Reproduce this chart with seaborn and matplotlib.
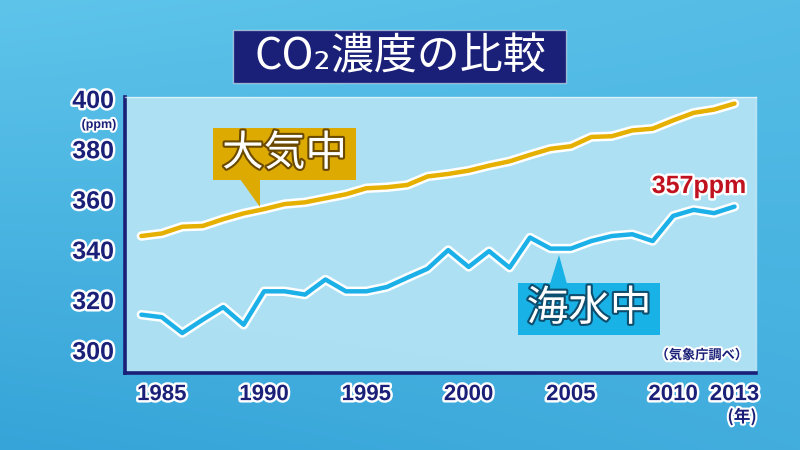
import numpy as np
import pandas as pd
import matplotlib
matplotlib.use("Agg")
import matplotlib.pyplot as plt
import seaborn as sns
from matplotlib import patheffects as pe
from matplotlib.patches import Rectangle, Polygon

# ---- data ----
years = list(range(1984, 2014))
atmosphere = [345.3, 346.3, 349.0, 349.3, 352.0, 354.3, 356.0, 358.0, 358.7, 360.3,
              361.9, 364.3, 364.7, 365.6, 369.0, 370.0, 371.3, 373.3, 375.0, 377.6,
              380.0, 381.0, 384.7, 385.0, 387.3, 388.0, 391.3, 394.3, 395.6, 398.0]
ocean = [314.0, 313.0, 306.7, 312.0, 317.0, 310.0, 323.3, 323.3, 322.0, 328.0,
         323.3, 323.3, 325.0, 328.7, 332.3, 339.7, 333.0, 339.3, 332.7, 344.7,
         340.3, 340.3, 343.3, 345.3, 346.0, 343.3, 353.3, 355.7, 354.4, 357.0]
x_ticks = [1985, 1990, 1995, 2000, 2005, 2010, 2013]
y_ticks = [300, 320, 340, 360, 380, 400]
title = "CO₂濃度の比較"
label_atm = "大気中"
label_ocean = "海水中"
last_label = "357ppm"
source = "（気象庁調べ）"

df = pd.DataFrame({"year": years, "atmosphere": atmosphere, "ocean": ocean})

sns.set_style("white")
CJK = ["Noto Sans CJK JP", "DejaVu Sans"]
NUM = ["Liberation Sans", "DejaVu Sans"]
plt.rcParams["font.family"] = CJK

NAVY = "#1a1f78"
GOLD = "#e5b000"
CYAN = "#1cb0e8"

W, H = 800, 450
fig = plt.figure(figsize=(8, 4.5), dpi=100)

def fx(x):
    return x / W

def fy(y):
    return 1 - y / H

# background gradient
bg = fig.add_axes([0, 0, 1, 1])
gy, gx = np.mgrid[0:1:200j, 0:1:360j]
t = 0.55 * gy + 0.25 * (1 - gx) * gy + 0.2 * gx * (1 - gy)
c_top = np.array([0x5e, 0xc4, 0xea]) / 255
c_bot = np.array([0x2c, 0x9c, 0xd4]) / 255
img = c_top[None, None, :] * (1 - t[..., None]) + c_bot[None, None, :] * t[..., None]
bg.imshow(img, aspect="auto", extent=[0, 1, 0, 1], origin="upper")
bg.set_axis_off()

# main axes
ax = fig.add_axes([fx(125), fy(373), fx(756) - fx(125), fy(97) - fy(373)])
ax.set_facecolor((0.71, 0.895, 0.955, 0.93))

sns.lineplot(data=df, x="year", y="atmosphere", ax=ax, color=GOLD, linewidth=3.2)
sns.lineplot(data=df, x="year", y="ocean", ax=ax, color=CYAN, linewidth=3.2)
for ln in ax.lines:
    ln.set_solid_joinstyle("round")
    ln.set_solid_capstyle("round")
    ln.set_path_effects([pe.Stroke(linewidth=6.8, foreground="white"), pe.Normal()])

ax.set_xlim(1983.2, 2014.05)
ax.set_ylim(290.8, 400.6)
ax.set_xticks(x_ticks)
ax.set_yticks(y_ticks)
ax.set_xlabel("")
ax.set_ylabel("")
for s in ["top", "right"]:
    ax.spines[s].set_color((1, 1, 1, 0.6))
    ax.spines[s].set_linewidth(1)
for s in ["left", "bottom"]:
    ax.spines[s].set_color(NAVY)
    ax.spines[s].set_linewidth(2.6)
ax.tick_params(axis="both", direction="in", length=4, width=2, color=NAVY,
               labelcolor=NAVY)
ax.tick_params(axis="x", pad=8, labelsize=16)
ax.tick_params(axis="y", pad=8, labelsize=18)
for lbl in ax.get_xticklabels() + ax.get_yticklabels():
    lbl.set_fontfamily(NUM)
    lbl.set_fontweight("bold")
    lbl.set_path_effects([pe.withStroke(linewidth=3.5, foreground="white")])
ax.grid(False)

white_edge = [pe.withStroke(linewidth=3, foreground="white")]

# unit labels
fig.text(fx(99), fy(125), "(ppm)", ha="center", va="center", fontsize=9,
         color=NAVY, fontweight="bold", family=NUM, path_effects=white_edge)
fig.text(fx(742), fy(417), "(年)", ha="center", va="center", fontsize=12,
         color=NAVY, fontweight="bold", family=CJK, path_effects=white_edge)
fig.text(fx(702), fy(355), source, ha="center", va="center", fontsize=9.5,
         color=NAVY, fontweight="bold", family=CJK, path_effects=white_edge)

# title box
fig.patches.append(Rectangle((fx(233), fy(83)), fx(566) - fx(233), fy(30) - fy(83),
                             transform=fig.transFigure, facecolor=NAVY,
                             edgecolor=(1, 1, 1, 0.5), linewidth=1, zorder=5))
fig.text(fx(400), fy(57), title, ha="center", va="center", fontsize=31,
         color="white", family=CJK, zorder=6)

# callout: atmosphere
fig.patches.append(Polygon([(fx(240), fy(179)), (fx(260), fy(179)), (fx(260), fy(207))],
                           closed=True, transform=fig.transFigure,
                           facecolor="#dcaa00", edgecolor="none", zorder=5))
fig.patches.append(Rectangle((fx(213), fy(180)), fx(356) - fx(213), fy(128) - fy(180),
                             transform=fig.transFigure, facecolor="#dcaa00",
                             edgecolor="none", zorder=5))
fig.text(fx(284.5), fy(154), label_atm, ha="center", va="center", fontsize=30,
         color="white", family=CJK, zorder=6,
         path_effects=[pe.withStroke(linewidth=3, foreground="#6b4a00")])

# callout: ocean
fig.patches.append(Polygon([(fx(550), fy(284)), (fx(567), fy(284)), (fx(559), fy(255))],
                           closed=True, transform=fig.transFigure,
                           facecolor="#19b2e6", edgecolor="none", zorder=5))
fig.patches.append(Rectangle((fx(518), fy(335)), fx(660) - fx(518), fy(283) - fy(335),
                             transform=fig.transFigure, facecolor="#19b2e6",
                             edgecolor="none", zorder=5))
fig.text(fx(589), fy(309), label_ocean, ha="center", va="center", fontsize=30,
         color="white", family=CJK, zorder=6,
         path_effects=[pe.withStroke(linewidth=3, foreground="#0d4d6e")])

# last value label
fig.text(fx(699), fy(186), last_label, ha="center", va="center", fontsize=18,
         color="#c0111f", fontweight="bold", family=NUM, zorder=6,
         path_effects=[pe.withStroke(linewidth=3.5, foreground="white")])

fig.savefig("out.png", dpi=100)
